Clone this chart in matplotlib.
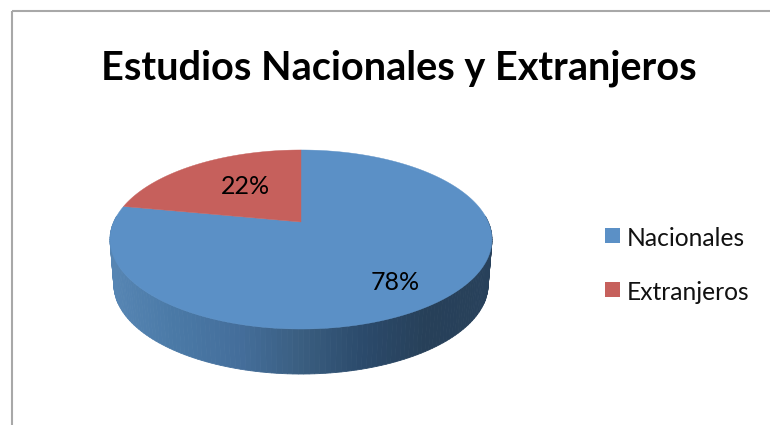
import numpy as np
import matplotlib
matplotlib.use("Agg")
import matplotlib.pyplot as plt
from matplotlib.colors import LinearSegmentedColormap
from matplotlib.patches import Polygon, Rectangle

# Chart content
title = "Estudios Nacionales y Extranjeros"
categories = ["Nacionales", "Extranjeros"]
shares = [78, 22]
slice_colors = ["#5B90C6", "#C6605C"]

W, H = 770, 425
fig = plt.figure(figsize=(W / 100, H / 100), dpi=100)
ax = fig.add_axes([0, 0, 1, 1])
ax.set_xlim(0, W)
ax.set_ylim(H, 0)
ax.axis("off")
font = "Lato"

# Perspective projection of the unit disc onto the canvas
CX, HUB_Y, KX = 301.0, 222.0, 187.3
A, C = -42.7, 0.1955
DEPTH = 45.0


def project(theta, radius=1.0):
    """theta runs clockwise from twelve o'clock, in radians."""
    u = radius * np.sin(theta)
    v = radius * np.cos(theta)
    d = 1 + C * v
    return CX + KX * u / d, (A * v + HUB_Y) / d


def project_low(theta):
    x, y = project(theta)
    return CX + (x - CX) * 0.98, y + DEPTH


# Outer wall, visible along the front of the rim
wall_cmap = LinearSegmentedColormap.from_list(
    "wall", ["#5685B3", "#4A79A6", "#446E9B", "#3A5E80", "#2B4A6B", "#274059", "#28415B"]
)
angles = np.linspace(np.radians(86), np.radians(274), 140)
for i, (a0, a1) in enumerate(zip(angles[:-1], angles[1:])):
    xt0, yt0 = project(a0)
    xt1, yt1 = project(a1)
    xb0, yb0 = project_low(a0)
    xb1, yb1 = project_low(a1)
    pos = np.clip((0.5 * (xt0 + xt1) - 112) / (490 - 112), 0, 1)
    color = wall_cmap(pos)
    ax.add_patch(Polygon([(xt0, yt0), (xt1, yt1), (xb1, yb1), (xb0, yb0)],
                         closed=True, facecolor=color, edgecolor=color, linewidth=0.6))

# Top surface: slices run clockwise from twelve o'clock
start = 0.0
total = sum(shares)
for share, color in zip(shares, slice_colors):
    sweep = 2 * np.pi * share / total
    th = np.linspace(start, start + sweep, 200)
    xs, ys = project(th)
    pts = np.column_stack([np.r_[CX, xs], np.r_[HUB_Y, ys]])
    ax.add_patch(Polygon(pts, closed=True, facecolor=color, edgecolor=color, linewidth=0.3))
    start += sweep

# Percentage labels
label_pos = [(395, 283), (245, 186)]
for share, (lx, ly) in zip(shares, label_pos):
    ax.text(lx, ly, f"{share}%", fontsize=18, family=font, color="black",
            ha="center", va="center")

# Chart frame
frame = "#A8A8A8"
ax.plot([12, 12], [H, 10.5], color=frame, lw=1.5, solid_capstyle="butt")
ax.plot([12, W], [11, 11], color=frame, lw=1.5, solid_capstyle="butt")

# Title
ax.text(399, 68, title, fontsize=28.5, fontweight="bold", family=font, color="black",
        ha="center", va="center")

# Legend
legend_y = [237, 291]
for name, color, y in zip(categories, slice_colors, legend_y):
    ax.add_patch(Rectangle((605, y - 9), 15, 15, facecolor=color, edgecolor="none"))
    ax.text(627, y + 1, name, fontsize=17.7, family=font, color="#111111", ha="left", va="center")

fig.savefig("out.png", dpi=100, facecolor="white")
